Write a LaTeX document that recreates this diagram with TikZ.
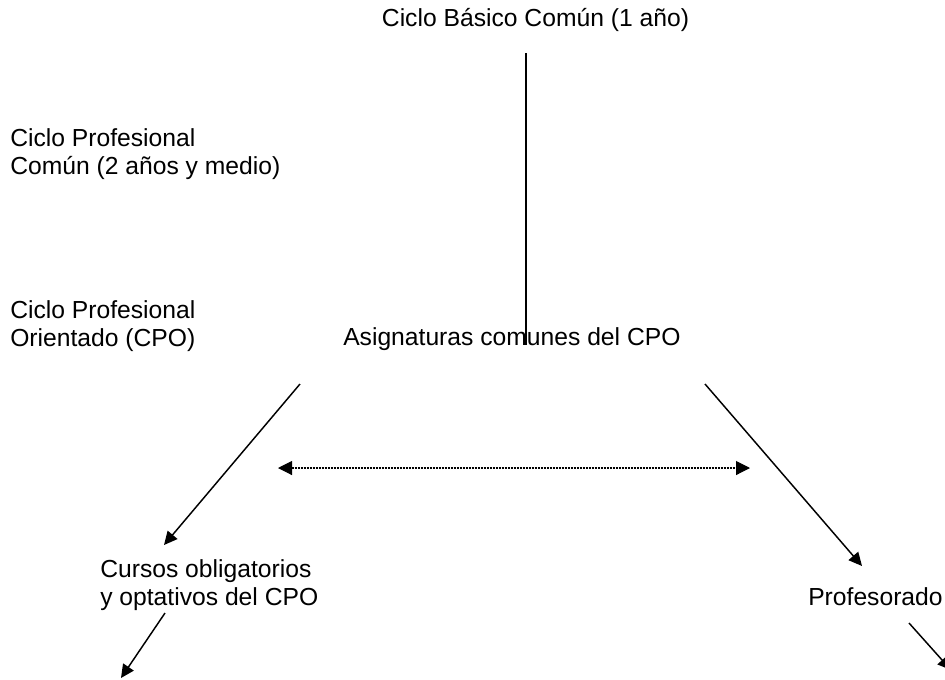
\documentclass[tikz,border=0pt]{standalone}
\usepackage{fontspec}
\setmainfont{Liberation Sans}
\usetikzlibrary{arrows.meta}
\tikzset{txt/.style={font=\fontsize{18.5}{21}\selectfont,inner sep=0pt,align=left},
         flow/.style={line width=1.1pt,-{Triangle[length=10pt,width=9.5pt]}},
         link/.style={line width=0.8pt,dash pattern=on 1.5pt off 0.75pt,
                      {Triangle[length=10.5pt,width=10.5pt]}-{Triangle[length=10.5pt,width=10.5pt]}}}

\begin{document}
\begin{tikzpicture}[x=0.75pt,y=-0.75pt]
        \useasboundingbox (0,0) rectangle (945,679);
        \node[txt,anchor=base] (cbc) at (535.5,26) {Ciclo Básico Común (1 año)};
        \node[txt,anchor=base west] (cpc) at (10,174) {Ciclo Profesional\\Común (2 años y medio)};
        \node[txt,anchor=base west] (cpo) at (10,346) {Ciclo Profesional\\Orientado (CPO)};
        \node[txt,anchor=base west] (asig) at (343,345) {Asignaturas comunes del CPO};
        \node[txt,anchor=base west] (curs) at (100,605) {Cursos obligatorios\\y optativos del CPO};
        \node[txt,anchor=base west] (prof) at (808,605) {Profesorado};

        \coordinate (v1) at (526,53);
        \coordinate (v2) at (526,345);
        \coordinate (l1) at (300,384);
        \coordinate (l2) at (164,545);
        \coordinate (r1) at (705,384);
        \coordinate (r2) at (862,566);
        \coordinate (d1) at (278,468);
        \coordinate (d2) at (750,468);
        \coordinate (bl1) at (165,613);
        \coordinate (bl2) at (121,678);
        \coordinate (br1) at (909,623);
        \coordinate (br2) at (951,670);

        \draw [line width=1.1pt] (v1) -- (v2);
        \draw [flow] (l1) -- (l2);
        \draw [flow] (r1) -- (r2);
        \draw [link] (d1) -- (d2);
        \draw [flow] (bl1) -- (bl2);
        \draw [flow] (br1) -- (br2);
    \end{tikzpicture}
\end{document}
